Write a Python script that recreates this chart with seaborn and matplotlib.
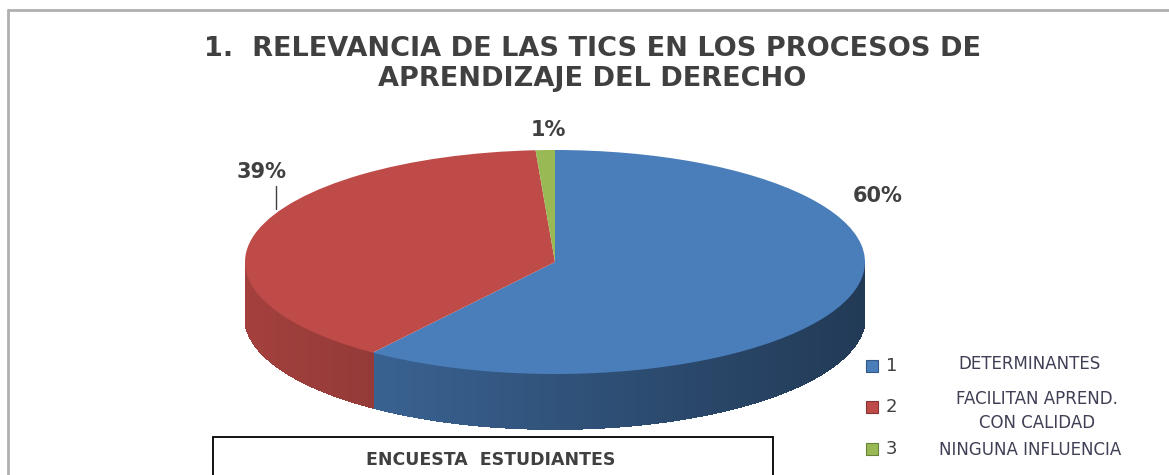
import matplotlib

matplotlib.use("Agg")
import matplotlib.pyplot as plt  # noqa: E402
import numpy as np  # noqa: E402
import seaborn as sns  # noqa: E402
from matplotlib.patches import Polygon, Rectangle  # noqa: E402

# data
categories = ["1", "2", "3"]
descriptions = ["DETERMINANTES", "FACILITAN APREND.\nCON CALIDAD", "NINGUNA INFLUENCIA"]
values = [60, 39, 1]
pct_labels = [f"{v}%" for v in values]
colors = ["#4a7ebb", "#be4b48", "#98b954"]
title = "1.  RELEVANCIA DE LAS TICS EN LOS PROCESOS DE\nAPRENDIZAJE DEL DERECHO"
footer = "ENCUESTA  ESTUDIANTES"

sns.set_theme(style="white")
plt.rcParams["font.family"] = ["DejaVu Sans"]
TXT = "#404040"

W, H = 1169, 475
fig = plt.figure(figsize=(W / 100, H / 100), dpi=100)

# pie axes: unit circle squashed into an ellipse (a=310px, b=112px)
depth = 0.49
ax = fig.add_axes([245 / W, 33.8 / H, 620 / W, 291.2 / H])
wedges, _ = ax.pie(values, colors=colors, startangle=90, counterclock=False,
                   radius=1, wedgeprops=dict(linewidth=0))
ax.set_aspect("auto")
ax.set_xlim(-1, 1)
ax.set_ylim(-1 - depth - 0.11, 1)
ax.axis("off")


def shade(hexcol, f):
    rgb = np.array(matplotlib.colors.to_rgb(hexcol))
    return tuple(np.clip(rgb * f, 0, 1))


# front side of the cylinder, built from the wedge angles
for w, c in zip(wedges, colors):
    w.set_zorder(3)
    ts = np.radians(np.linspace(w.theta1, w.theta2, 300))
    ts = ts[np.sin(ts) <= 1e-9]
    if len(ts) < 2:
        continue
    # solid underlay so no gaps show between the shaded strips
    top = np.column_stack([np.cos(ts), np.sin(ts)])
    bot = np.column_stack([np.cos(ts[::-1]), np.sin(ts[::-1]) - depth])
    ax.add_patch(Polygon(np.vstack([top, bot]), closed=True,
                         facecolor=shade(c, 0.6), edgecolor="none", zorder=1))
    for t0, t1 in zip(ts[:-1], ts[1:]):
        xm = (np.cos(t0) + np.cos(t1)) / 2
        col = shade(c, 0.66 - 0.2 * xm)
        pts = [(np.cos(t0), np.sin(t0)), (np.cos(t1), np.sin(t1)),
               (np.cos(t1), np.sin(t1) - depth), (np.cos(t0), np.sin(t0) - depth)]
        ax.add_patch(Polygon(pts, closed=True, facecolor=col, edgecolor=col,
                             linewidth=0.8, antialiased=False, zorder=2))

# percentage labels
label_pos = [(1.04, 0.59), (-0.945, 0.80), (-0.02, 1.18)]
for txt, (lx, ly) in zip(pct_labels, label_pos):
    ax.text(lx, ly, txt, ha="center", va="center", fontsize=15,
            fontweight="bold", color=TXT)
ax.plot([-0.9, -0.9], [0.68, 0.47], color=TXT, lw=1, clip_on=False, zorder=4)

# title
fig.text(592 / W, 1 - 63.5 / H, title, ha="center", va="center", fontsize=19.5,
         fontweight="bold", color=TXT, linespacing=1.2)

# legend: number keys with descriptions beside them
leg_y = [366, 407, 449]
for cat, c, yy in zip(categories, colors, leg_y):
    fig.patches.append(Rectangle((866 / W, 1 - (yy + 6) / H), 12 / W, 12 / H,
                                 transform=fig.transFigure, facecolor=c,
                                 edgecolor=shade(c, 0.7), lw=0.8))
    fig.text(886 / W, 1 - yy / H, cat, ha="left", va="center", fontsize=13,
             color=TXT)
desc_pos = [(1030, 364), (1037, 411), (1030, 450)]
for desc, (dx, dy) in zip(descriptions, desc_pos):
    fig.text(dx / W, 1 - dy / H, desc, ha="center", va="center", fontsize=12,
             color="#3f3f55", linespacing=1.45)

# footer box
fig.patches.append(Rectangle((213 / W, -0.05), 560 / W, 1 - 437 / H + 0.05,
                             transform=fig.transFigure, facecolor="none",
                             edgecolor="black", lw=1.3))
fig.text(491 / W, 1 - 460 / H, footer, ha="center", va="center", fontsize=12.5,
         fontweight="bold", color=TXT)

# outer chart frame (top and left edges visible)
fig.add_artist(plt.Line2D([8 / W, 1], [1 - 10 / H, 1 - 10 / H], color="#b0b0b0",
                          lw=2, transform=fig.transFigure))
fig.add_artist(plt.Line2D([8 / W, 8 / W], [0, 1 - 10 / H], color="#b0b0b0",
                          lw=2, transform=fig.transFigure))

fig.savefig("out.png", dpi=100)
plt.close(fig)
